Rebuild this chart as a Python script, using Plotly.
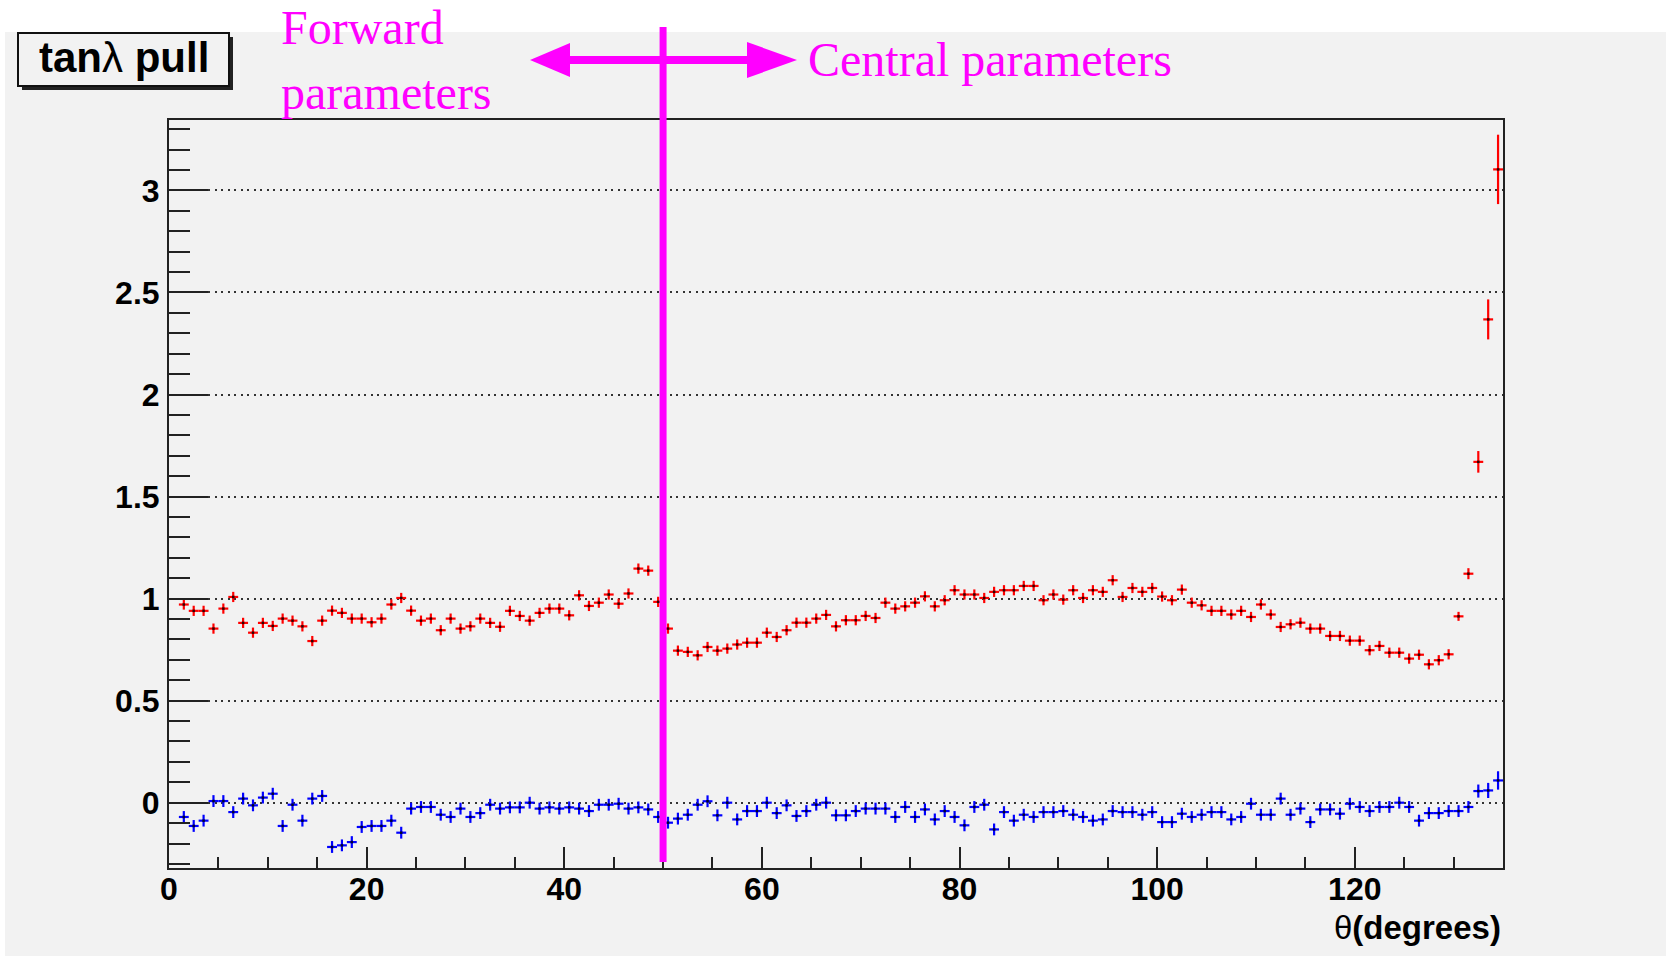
import plotly.graph_objects as go

# Bin centres in theta (1-degree bins)
theta = [i + 0.5 for i in range(1, 135)]

# Pull width (red) per theta bin
pull_width = [
    0.971, 0.940, 0.940, 0.853, 0.951, 1.008, 0.881, 0.833, 0.881, 0.866,
    0.902, 0.892, 0.864, 0.792, 0.892, 0.941, 0.930, 0.902, 0.902, 0.884,
    0.902, 0.971, 1.003, 0.941, 0.892, 0.902, 0.845, 0.902, 0.853, 0.864,
    0.902, 0.881, 0.862, 0.940, 0.915, 0.892, 0.930, 0.951, 0.951, 0.918,
    1.016, 0.964, 0.980, 1.020, 0.975, 1.025, 1.147, 1.137, 0.984, 0.853,
    0.745, 0.739, 0.722, 0.763, 0.745, 0.755, 0.775, 0.784, 0.784, 0.833,
    0.812, 0.845, 0.882, 0.882, 0.902, 0.920, 0.864, 0.894, 0.894, 0.915,
    0.905, 0.980, 0.951, 0.962, 0.980, 1.011, 0.962, 0.992, 1.041, 1.020,
    1.020, 1.003, 1.033, 1.041, 1.041, 1.062, 1.062, 0.992, 1.020, 0.995,
    1.041, 1.003, 1.041, 1.033, 1.090, 1.008, 1.052, 1.033, 1.052, 1.010,
    0.992, 1.044, 0.980, 0.967, 0.940, 0.940, 0.922, 0.940, 0.910, 0.971,
    0.922, 0.861, 0.874, 0.882, 0.853, 0.853, 0.817, 0.817, 0.794, 0.794,
    0.747, 0.768, 0.735, 0.735, 0.706, 0.725, 0.678, 0.698, 0.727, 0.913,
    1.122, 1.670, 2.368, 3.103,
]
pull_width_err = [0.025] * 129 + [0.022, 0.027, 0.053, 0.098, 0.170]

# Pull mean (blue) per theta bin
pull_mean = [
    -0.070, -0.114, -0.088, 0.008, 0.008, -0.046, 0.020, -0.013, 0.025, 0.044,
    -0.114, -0.010, -0.088, 0.020, 0.033, -0.217, -0.209, -0.193, -0.119, -0.114,
    -0.114, -0.088, -0.147, -0.029, -0.021, -0.021, -0.059, -0.070, -0.029, -0.070,
    -0.051, -0.010, -0.029, -0.023, -0.023, 0.000, -0.029, -0.023, -0.029, -0.023,
    -0.029, -0.041, -0.010, -0.010, -0.005, -0.029, -0.023, -0.033, -0.070, -0.098,
    -0.078, -0.059, -0.010, 0.007, -0.062, 0.000, -0.082, -0.041, -0.041, 0.000,
    -0.051, -0.013, -0.065, -0.041, -0.010, 0.000, -0.062, -0.062, -0.041, -0.029,
    -0.029, -0.029, -0.070, -0.021, -0.070, -0.033, -0.082, -0.041, -0.070, -0.111,
    -0.021, -0.010, -0.131, -0.046, -0.088, -0.059, -0.070, -0.046, -0.046, -0.041,
    -0.059, -0.070, -0.088, -0.082, -0.041, -0.046, -0.046, -0.059, -0.046, -0.095,
    -0.095, -0.054, -0.070, -0.059, -0.046, -0.046, -0.082, -0.070, -0.005, -0.059,
    -0.059, 0.020, -0.059, -0.029, -0.095, -0.033, -0.033, -0.054, -0.005, -0.021,
    -0.041, -0.021, -0.021, 0.000, -0.021, -0.088, -0.051, -0.051, -0.041, -0.041,
    -0.021, 0.057, 0.060, 0.109,
]
pull_mean_err = [0.029] * 131 + [0.032, 0.037, 0.045]

# Boundary between forward and central parameterisations (degrees)
boundary_theta = 50

x_range = [0, 135]
y_range = [-0.32, 3.345]

# Figure geometry (pixels)
FIG_W, FIG_H = 1669, 956
L, R, T, B = 169, 1503, 120, 868
PW, PH = R - L, B - T


def px(xp):
    return (xp - L) / PW


def py(yp):
    return (B - yp) / PH


CANVAS = "#f2f2f2"
MAGENTA = "#ff00ff"

fig = go.Figure()

for vals, errs, color, dot in [
    (pull_width, pull_width_err, "#ff0000", "#300000"),
    (pull_mean, pull_mean_err, "#0000ff", "#000030"),
]:
    fig.add_trace(go.Scatter(
        x=theta, y=vals, mode="markers",
        marker=dict(symbol="square", size=2.5, color=dot),
        error_y=dict(type="data", array=errs, visible=True, color=color, thickness=2.2, width=0),
        error_x=dict(type="constant", value=0.5, visible=True, color=color, thickness=2.2, width=0),
        showlegend=False, hoverinfo="x+y",
    ))

bold_font = dict(family="Liberation Sans, Arial, sans-serif", size=32, color="black", weight="bold")

fig.update_layout(
    width=FIG_W, height=FIG_H, autosize=False,
    margin=dict(l=L, r=FIG_W - R, t=T, b=FIG_H - B, pad=0),
    paper_bgcolor="white", plot_bgcolor=CANVAS,
    xaxis=dict(
        range=x_range, showgrid=False, zeroline=False,
        showline=True, mirror=True, linecolor="#222", linewidth=2,
        ticks="inside", ticklen=21, tickwidth=2, tickcolor="#222",
        tick0=0, dtick=20, tickfont=bold_font, ticklabelstandoff=-8,
        minor=dict(ticks="inside", ticklen=11, tickwidth=2, tickcolor="#222", dtick=5, showgrid=False),
    ),
    yaxis=dict(
        range=y_range, zeroline=False,
        showgrid=True, gridcolor="#333", gridwidth=1.5, griddash="2px,4.5px",
        showline=True, mirror=True, linecolor="#222", linewidth=2,
        ticks="inside", ticklen=39, tickwidth=2, tickcolor="#222",
        tick0=0, dtick=0.5, tickfont=bold_font, ticklabelstandoff=1,
        minor=dict(ticks="inside", ticklen=21, tickwidth=2, tickcolor="#222", dtick=0.1, showgrid=False),
    ),
)

shapes = [
    # canvas
    dict(type="rect", xref="paper", yref="paper", layer="below",
         x0=px(5), x1=px(1666), y0=py(32), y1=py(958),
         fillcolor=CANVAS, line=dict(width=0)),
    # title box shadow and box
    dict(type="rect", xref="paper", yref="paper", layer="above",
         x0=px(22), x1=px(233), y0=py(37), y1=py(90),
         fillcolor="#222", line=dict(width=0)),
    dict(type="rect", xref="paper", yref="paper", layer="above",
         x0=px(18), x1=px(229), y0=py(33), y1=py(86),
         fillcolor=CANVAS, line=dict(color="#111", width=2)),
    # boundary line
    dict(type="line", xref="paper", yref="paper", layer="above",
         x0=(boundary_theta - x_range[0]) / (x_range[1] - x_range[0]),
         x1=(boundary_theta - x_range[0]) / (x_range[1] - x_range[0]),
         y0=py(862), y1=py(27), line=dict(color=MAGENTA, width=7)),
    # double arrow shaft
    dict(type="line", xref="paper", yref="paper", layer="above",
         x0=px(565), x1=px(752), y0=py(60), y1=py(60),
         line=dict(color=MAGENTA, width=8)),
    # arrow heads
    dict(type="path", xref="paper", yref="paper", layer="above",
         path=f"M {px(530)},{py(60)} L {px(570)},{py(43)} L {px(570)},{py(77)} Z",
         fillcolor=MAGENTA, line=dict(width=0)),
    dict(type="path", xref="paper", yref="paper", layer="above",
         path=f"M {px(797)},{py(60)} L {px(747)},{py(42)} L {px(747)},{py(78)} Z",
         fillcolor=MAGENTA, line=dict(width=0)),
]
fig.update_layout(shapes=shapes)

serif = dict(family="Liberation Serif, Times New Roman, serif", size=48, color=MAGENTA)
annotations = [
    dict(text="<b>tan</b>λ<b> pull</b>", x=px(124), y=py(58),
         font=dict(family="Liberation Sans, Arial, sans-serif", size=42, color="black")),
    dict(text="Forward", x=px(279), y=py(27), xanchor="left", font=serif),
    dict(text="parameters", x=px(279), y=py(93), xanchor="left", font=serif),
    dict(text="Central parameters", x=px(806), y=py(60), xanchor="left", font=serif),
    dict(text="θ<b>(degrees)</b>", x=px(1503), y=py(927), xanchor="right",
         font=dict(family="Liberation Sans, Arial, sans-serif", size=33, color="black")),
]
for a in annotations:
    a.setdefault("xanchor", "center")
    a.update(xref="paper", yref="paper", yanchor="middle", showarrow=False)
fig.update_layout(annotations=annotations)

fig.write_html("out.html")
